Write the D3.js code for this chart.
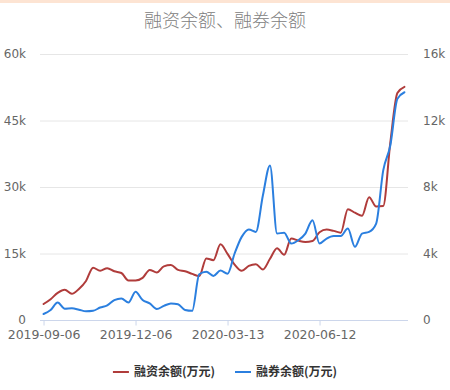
<!DOCTYPE html>
<html>
<head>
<meta charset="utf-8">
<script src="https://cdn.jsdelivr.net/npm/d3@7"></script>
<style>
  html, body { margin: 0; padding: 0; background: #fff; }
  #chart { width: 450px; height: 390px; border-top: 3px solid #fde4d3; box-sizing: border-box; }
  svg { display: block; font-family: "DejaVu Sans", "Noto Sans CJK SC", sans-serif; }
</style>
</head>
<body>
<div id="chart"></div>
<script>
const dates = [
  "2019-09-06", "2019-09-13", "2019-09-20", "2019-09-27", "2019-10-04", "2019-10-11",
  "2019-10-18", "2019-10-25", "2019-11-01", "2019-11-08", "2019-11-15", "2019-11-22",
  "2019-11-29", "2019-12-06", "2019-12-13", "2019-12-20", "2019-12-27", "2020-01-03",
  "2020-01-10", "2020-01-17", "2020-01-23", "2020-02-07", "2020-02-14", "2020-02-21",
  "2020-02-28", "2020-03-06", "2020-03-13", "2020-03-20", "2020-03-27", "2020-04-03",
  "2020-04-10", "2020-04-17", "2020-04-24", "2020-04-30", "2020-05-08", "2020-05-15",
  "2020-05-22", "2020-05-29", "2020-06-05", "2020-06-12", "2020-06-19", "2020-06-24",
  "2020-07-03", "2020-07-10", "2020-07-17", "2020-07-24", "2020-07-31", "2020-08-07",
  "2020-08-14", "2020-08-21", "2020-08-28", "2020-09-04"
];

// 融资余额 (万元), left axis
const financing = [
  3600, 4700, 6100, 6800, 5900, 7000, 8800, 11800, 11100, 11700, 11000, 10600,
  8900, 8900, 9500, 11300, 10700, 12100, 12400, 11300, 11000, 10400, 9900, 13900,
  13500, 17100, 14900, 12500, 11100, 12200, 12600, 11400, 13800, 16200, 14700, 18400,
  17900, 17600, 17800, 19800, 20400, 20100, 19700, 25000, 24200, 23500, 27700, 25600,
  25700, 40000, 51200, 52600
];

// 融券余额 (万元), right axis
const lending = [
  360, 600, 1050, 680, 700, 620, 520, 550, 750, 880, 1200, 1300,
  1050, 1700, 1200, 1000, 660, 850, 1000, 950, 600, 550, 2750, 2900,
  2650, 2970, 2780, 4000, 5000, 5450, 5300, 7500, 9300, 5200, 5250, 4600,
  4800, 5200, 6000, 4600, 4900, 5050, 5050, 5500, 4400, 5200, 5300, 5800,
  9000, 10500, 13300, 13700
];

const leftTicks = [0, 15000, 30000, 45000, 60000];
const rightTicks = [0, 4000, 8000, 12000, 16000];
const labelStep = 13;

const series = [
  { name: "融资余额(万元)", values: financing, axis: "left", color: "#b03c3b" },
  { name: "融券余额(万元)", values: lending, axis: "right", color: "#2b7fdf" }
];

const width = 450;
const height = 387;
const margin = { top: 51, right: 42, bottom: 70, left: 40 };
const plotW = width - margin.left - margin.right;
const plotH = height - margin.top - margin.bottom;

const svg = d3.select("#chart").append("svg")
  .attr("width", width)
  .attr("height", height);

svg.append("text")
  .attr("x", width / 2)
  .attr("y", 24)
  .attr("text-anchor", "middle")
  .attr("fill", "#808080")
  .style("font-family", "'Noto Sans CJK SC', sans-serif")
  .style("font-size", "18px")
  .style("font-weight", 300)
  .text("融资余额、融券余额");

const g = svg.append("g").attr("transform", `translate(${margin.left},${margin.top})`);

const x = d3.scalePoint().domain(dates).range([0, plotW]).padding(0.5);
const yLeft = d3.scaleLinear().domain([0, 60000]).range([plotH, 0]);
const yRight = d3.scaleLinear().domain([0, 16000]).range([plotH, 0]);

const fmt = (d) => (d === 0 ? "0" : d / 1000 + "k");

// grid lines
g.append("g")
  .selectAll("line")
  .data(leftTicks.filter((d) => d > 0))
  .join("line")
  .attr("x1", 0)
  .attr("x2", plotW)
  .attr("y1", (d) => yLeft(d) + 0.5)
  .attr("y2", (d) => yLeft(d) + 0.5)
  .attr("stroke", "#e6e6e6");

// left axis labels
g.append("g")
  .selectAll("text")
  .data(leftTicks)
  .join("text")
  .attr("x", -14)
  .attr("y", (d) => yLeft(d))
  .attr("dy", "0.35em")
  .attr("text-anchor", "end")
  .attr("fill", "#666")
  .style("font-size", "12px")
  .text(fmt);

// right axis labels
g.append("g")
  .selectAll("text")
  .data(rightTicks)
  .join("text")
  .attr("x", plotW + 15)
  .attr("y", (d) => yRight(d))
  .attr("dy", "0.35em")
  .attr("text-anchor", "start")
  .attr("fill", "#666")
  .style("font-size", "12px")
  .text(fmt);

// x axis
const xAxis = d3.axisBottom(x)
  .tickValues(dates.filter((d, i) => i % labelStep === 0))
  .tickSize(5)
  .tickPadding(5);

const xg = g.append("g")
  .attr("transform", `translate(0,${plotH + 0.5})`)
  .call(xAxis);
xg.select(".domain").attr("stroke", "#ccd6eb").attr("d", `M0,0H${plotW}`);
xg.selectAll(".tick line").attr("stroke", "#ccd6eb");
xg.selectAll(".tick text")
  .attr("fill", "#666")
  .style("font-size", "12.5px")
  .style("font-family", "'DejaVu Sans', sans-serif");

// lines
series.forEach((s) => {
  const y = s.axis === "left" ? yLeft : yRight;
  const line = d3.line()
    .x((d, i) => x(dates[i]))
    .y((d) => y(d))
    .curve(d3.curveMonotoneX);
  g.append("path")
    .datum(s.values)
    .attr("fill", "none")
    .attr("stroke", s.color)
    .attr("stroke-width", 2)
    .attr("stroke-linejoin", "round")
    .attr("stroke-linecap", "round")
    .attr("d", line);
});

// legend
const legend = svg.append("g").attr("transform", `translate(0,${369})`);
const items = legend.selectAll("g")
  .data(series)
  .join("g");

items.append("line")
  .attr("x1", 0)
  .attr("x2", 16)
  .attr("stroke", (d) => d.color)
  .attr("stroke-width", 2);

items.append("text")
  .attr("x", 21)
  .attr("dy", "0.35em")
  .attr("fill", "#333")
  .style("font-family", "'Noto Sans CJK SC', sans-serif")
  .style("font-size", "12px")
  .style("font-weight", "bold")
  .text((d) => d.name);

let offset = 0;
const widths = [];
items.each(function () {
  widths.push(this.getBBox().width);
});
const total = d3.sum(widths) + 20 * (widths.length - 1);
offset = (width - total) / 2;
items.attr("transform", (d, i) => {
  const t = `translate(${offset},0)`;
  offset += widths[i] + 20;
  return t;
});
</script>
</body>
</html>
